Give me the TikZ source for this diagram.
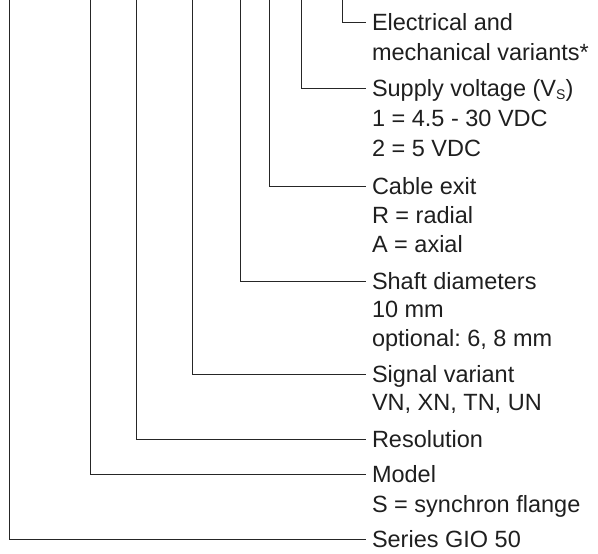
\documentclass[tikz,border=0pt]{standalone}
\usepackage{fontspec}
\setmainfont{Liberation Sans}
\usetikzlibrary{positioning}
\frenchspacing

\tikzset{
  lbl/.style={anchor=west, inner sep=0pt, outer xsep=6pt, text height=17pt, text depth=0pt,
    text=black!88, font=\fontsize{23.5}{29}\selectfont},
  lead/.style={line width=0.9pt, draw=black!85}
}

\begin{document}
\begin{tikzpicture}[x=1pt, y=-1pt]
\useasboundingbox (0,0) rectangle (598,554);

% tops of the leader lines
\coordinate (tser) at (9,0);
\coordinate (tmod) at (90,0);
\coordinate (tres) at (136,0);
\coordinate (tsig) at (192,0);
\coordinate (tsha) at (240,0);
\coordinate (tcab) at (269,0);
\coordinate (tsup) at (301,0);
\coordinate (tele) at (342,0);

% labels
\node[lbl] (ele) at (366,22) {Electrical and};
\node[lbl] (ele2) at (366,52) {mechanical variants*};
\node[lbl] (sup) at (366,88) {Supply voltage (V\raisebox{-3pt}{\fontsize{14}{14}\selectfont S})};
\node[lbl] (sup2) at (366,118) {1 = 4.5 - 30 VDC};
\node[lbl] (sup3) at (366,148) {2 = 5 VDC};
\node[lbl] (cab) at (366,186) {Cable exit};
\node[lbl] (cab2) at (366,215) {R = radial};
\node[lbl] (cab3) at (366,244) {A = axial};
\node[lbl] (sha) at (366,281) {Shaft diameters};
\node[lbl] (sha2) at (366,309) {10 mm};
\node[lbl] (sha3) at (366,338) {optional: 6, 8 mm};
\node[lbl] (sig) at (366,374) {Signal variant};
\node[lbl] (sig2) at (366,402) {VN, XN, TN, UN};
\node[lbl] (res) at (366,439) {Resolution};
\node[lbl] (mod) at (366,474) {Model};
\node[lbl] (mod2) at (366,504) {S = synchron flange};
\node[lbl] (ser) at (366,539) {Series GIO 50};

% leaders
\draw[lead] (tele) |- (ele.west);
\draw[lead] (tsup) |- (sup.west);
\draw[lead] (tcab) |- (cab.west);
\draw[lead] (tsha) |- (sha.west);
\draw[lead] (tsig) |- (sig.west);
\draw[lead] (tres) |- (res.west);
\draw[lead] (tmod) |- (mod.west);
\draw[lead] (tser) |- (ser.west);
\end{tikzpicture}
\end{document}
